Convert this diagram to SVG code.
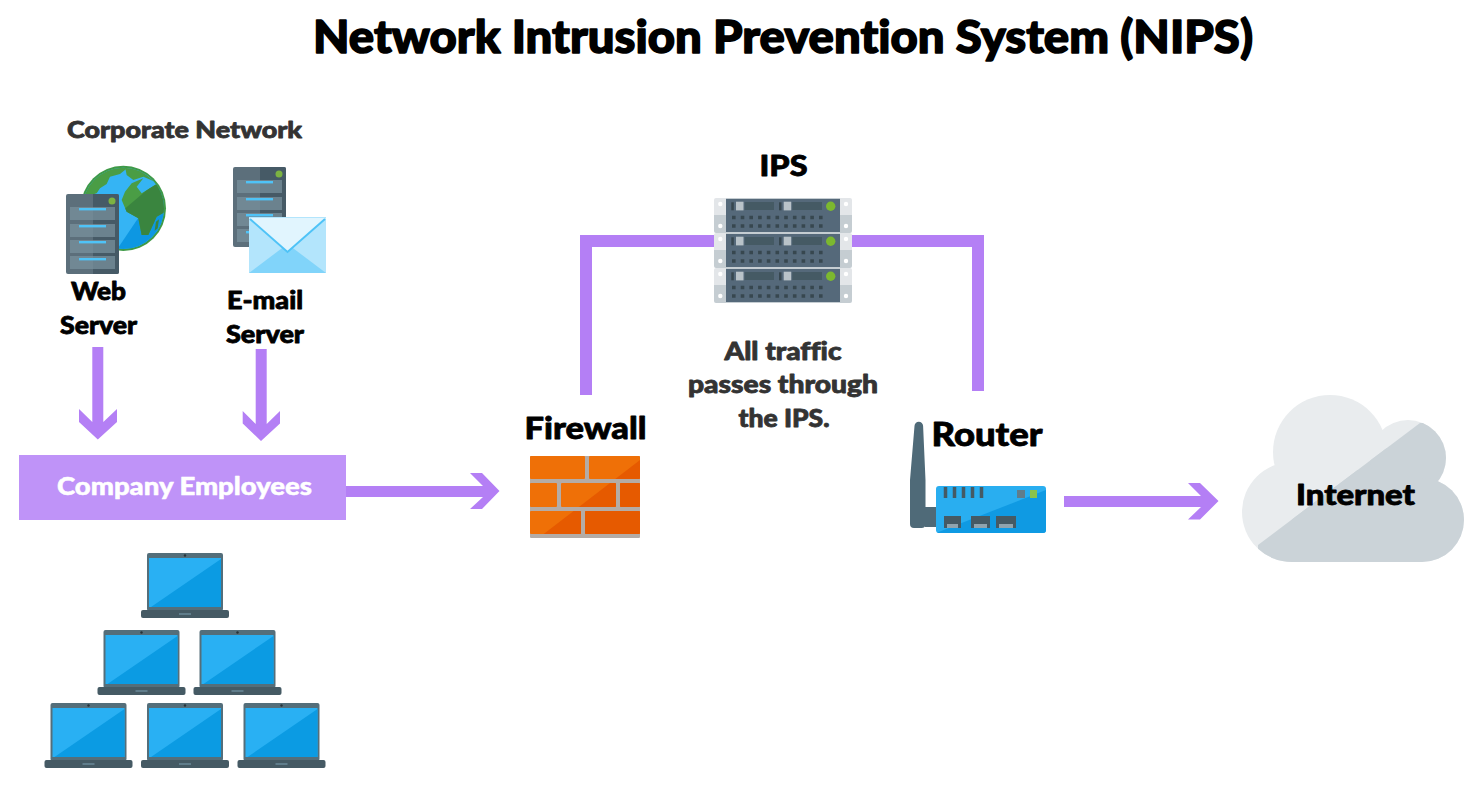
<svg xmlns="http://www.w3.org/2000/svg" width="1484" height="791" viewBox="0 0 1484 791">
<style>
text{font-family:"Lato","Noto Sans","Liberation Sans",sans-serif;font-weight:900;fill:#000;stroke:#000;stroke-width:.8;stroke-linejoin:round;text-anchor:middle;font-variant-ligatures:none}
text.dark{fill:#333;stroke:#333}
text.white{fill:#fff;stroke:#fff;stroke-width:.5}
text.big{stroke-width:1.5}
.wire{fill:none;stroke:#b47ff5;stroke-width:12;stroke-linejoin:miter}
.arrow{fill:#b47ff5}
</style>
<defs>
<clipPath id="cloudClip"><path d="M1258 545L1420 423L1484 423V600H1258Z"/></clipPath>
<clipPath id="wallClip"><path d="M640 460L545 533L530 545H640Z"/></clipPath>
<clipPath id="globeClip"><circle cx="190" cy="145" r="122"/></clipPath>
<clipPath id="shadeClip"><path d="M190 150L290 65L340 100V300H120Z"/></clipPath>
<clipPath id="routerClip"><rect x="936" y="486" width="110" height="47" rx="3"/></clipPath>
<symbol id="laptop" overflow="visible" width="76" height="66">
<rect x="0" y="0" width="76" height="58" rx="2" fill="#546e7a"/>
<rect x="2" y="5" width="72" height="49" fill="#29b0f3"/>
<path d="M4 54L74 6V54Z" fill="#0b9be3"/>
<circle cx="38" cy="2.500" r="1.200" fill="#263238"/>
<rect x="-6" y="57" width="88" height="8" rx="2" fill="#455a64"/>
<rect x="32" y="60" width="12" height="2" fill="#607d8b"/>
</symbol>
<symbol id="tower" overflow="visible" width="53" height="80">
<rect width="53" height="80" rx="2" fill="#5c6f7b"/>
<path d="M27 0H51a2 2 0 0 1 2 2V78a2 2 0 0 1-2 2H27Z" fill="#465a66"/>
<rect x="4" y="13" width="45" height="13" fill="#78909c" opacity=".75"/>
<rect x="4" y="30" width="45" height="13" fill="#78909c" opacity=".75"/>
<rect x="4" y="46" width="45" height="13" fill="#78909c" opacity=".75"/>
<rect x="4" y="62" width="45" height="13" fill="#78909c" opacity=".75"/>
<rect x="13" y="14" width="27" height="2.400" fill="#4fc3f7"/>
<rect x="13" y="31" width="27" height="2.400" fill="#4fc3f7"/>
<rect x="13" y="47" width="27" height="2.400" fill="#4fc3f7"/>
<rect x="13" y="64" width="27" height="2.400" fill="#4fc3f7"/>
<circle cx="46" cy="7" r="3.500" fill="#7cb342"/>
</symbol>
<symbol id="rack" overflow="visible" width="138" height="35">
<path d="M0 2a2 2 0 0 1 2-2H12V17H0Z" fill="#e3e6e9"/>
<path d="M0 17H12V35H2a2 2 0 0 1-2-2Z" fill="#c5cdd2"/>
<path d="M126 0H136a2 2 0 0 1 2 2V17H126Z" fill="#e3e6e9"/>
<path d="M126 17H138V33a2 2 0 0 1-2 2H126Z" fill="#c5cdd2"/>
<rect x="12" y="0" width="114" height="35" fill="#c5cdd2"/>
<rect x="12" y="1" width="114" height="33" fill="#55697a"/>
<circle cx="6.300" cy="6" r="2.200" fill="#fff"/><circle cx="6.300" cy="28" r="2.200" fill="#fff"/>
<circle cx="132" cy="6" r="2.200" fill="#fff"/><circle cx="132" cy="28" r="2.200" fill="#fff"/>
<rect x="17.300" y="4.300" width="2.500" height="8" fill="#37474f"/>
<rect x="22" y="3.700" width="7.500" height="8.700" fill="#b9c3c9"/>
<rect x="30.700" y="4" width="29.300" height="8" fill="#455a64"/>
<rect x="65" y="4.300" width="2.500" height="8" fill="#37474f"/>
<rect x="69.700" y="3.700" width="7.500" height="8.700" fill="#b9c3c9"/>
<rect x="78.300" y="4" width="29.700" height="8" fill="#455a64"/>
<circle cx="116.700" cy="8.300" r="4.700" fill="#7cb82f"/>
<path d="M18 19.500H110M18 28H110" stroke="#37474f" stroke-width="3.600" stroke-dasharray="3.600 5.100" fill="none"/>
</symbol>
</defs>
<rect width="1484" height="791" fill="#fff"/>

<g id="title"><text class="big" x="783" y="53" font-size="46" textLength="940" lengthAdjust="spacingAndGlyphs">Network Intrusion Prevention System (NIPS)</text></g>

<g id="connectors">
<path class="wire" d="M586 395V241H714"/>
<path class="wire" d="M852 241H978V391"/>
<path class="arrow" d="M92.300 347H103.300V422L117 409V422L97.800 439.500L79 422V409L92.300 422Z"/>
<path class="arrow" d="M255.700 349H266.700V424L280 411V423.500L261 441L242.700 423.500V411L255.700 424Z"/>
<path class="arrow" d="M346 486H483L470 473H482L499.500 491L482 509H470L483 497H346Z"/>
<path class="arrow" d="M1064 496H1201L1188 483H1200L1218.500 501L1200 519.500H1188L1201 507H1064Z"/>
</g>

<g id="corporate-network"><text class="dark" x="184.500" y="138" font-size="23" textLength="235" lengthAdjust="spacingAndGlyphs">Corporate Network</text></g>

<g id="web-server">
<g transform="translate(60 160) scale(.3333)">
<circle cx="190" cy="145" r="128" fill="#3f9a47"/>
<g clip-path="url(#globeClip)">
<rect x="60" y="15" width="260" height="260" fill="#35b4f4"/>
<path d="M170 270L325 40V270Z" fill="#0d97e2"/>
<path d="M60 105L100 55L150 25L205 22L180 42L150 50L140 72L120 85L110 100L70 112Z" fill="#4a9d45"/>
<path d="M195 95L215 70L250 55L230 80L245 100L290 72L320 110L325 150L290 170L265 225L245 225L235 175L200 155L185 120Z" fill="#4a9d45"/>
<path d="M195 20L240 30L285 65L250 50L220 60L200 45Z" fill="#4a9d45"/>
<g clip-path="url(#shadeClip)"><path d="M195 95L215 70L250 55L230 80L245 100L290 72L320 110L325 150L290 170L265 225L245 225L235 175L200 155L185 120Z" fill="#3a853f"/></g>
<path d="M288 185L297 178L293 205L284 212Z" fill="#3a853f"/>
</g>
</g>
<use href="#tower" x="66" y="194"/>
<text x="98.500" y="300" font-size="24" textLength="55" lengthAdjust="spacingAndGlyphs">Web</text>
<text x="98.500" y="334" font-size="24" textLength="77" lengthAdjust="spacingAndGlyphs">Server</text>
</g>

<g id="email-server">
<use href="#tower" x="233" y="167"/>
<rect x="249" y="217" width="77" height="56" fill="#b3e5fc"/>
<path d="M249 273L287.500 244L326 273Z" fill="#81d4fa"/>
<path d="M249 218H326L287.500 252Z" fill="#e1f5fe"/>
<path d="M250 219L287.500 252L325 219" fill="none" stroke="#4fc3f7" stroke-width="2"/>
<text x="265" y="309" font-size="24" textLength="76" lengthAdjust="spacingAndGlyphs">E-mail</text>
<text x="265" y="343" font-size="24" textLength="78" lengthAdjust="spacingAndGlyphs">Server</text>
</g>

<g id="company-employees">
<rect x="19" y="455" width="327" height="65" fill="#bf93f8"/>
<text class="white" x="184.500" y="495" font-size="24" textLength="255" lengthAdjust="spacingAndGlyphs">Company Employees</text>
</g>

<g id="laptops">
<use href="#laptop" x="147" y="553"/>
<use href="#laptop" x="103.500" y="630"/>
<use href="#laptop" x="199.500" y="630"/>
<use href="#laptop" x="50.500" y="703"/>
<use href="#laptop" x="147" y="703"/>
<use href="#laptop" x="243.500" y="703"/>
</g>

<g id="firewall">
<text x="585.500" y="439" font-size="31" textLength="122" lengthAdjust="spacingAndGlyphs">Firewall</text>
<rect x="530" y="456" width="110" height="82" rx="1" fill="#b4aca6"/>
<g fill="#ef7007">
<rect x="530" y="456" width="55" height="23" rx="1"/><rect x="589" y="456" width="51" height="23" rx="1"/>
<rect x="530" y="483" width="27" height="24" rx="1"/><rect x="561" y="483" width="55" height="24" rx="1"/><rect x="620" y="483" width="20" height="24" rx="1"/>
<rect x="530" y="511" width="51" height="23" rx="1"/><rect x="585" y="511" width="55" height="23" rx="1"/>
</g>
<g fill="#e65a00" clip-path="url(#wallClip)">
<rect x="530" y="456" width="55" height="23" rx="1"/><rect x="589" y="456" width="51" height="23" rx="1"/>
<rect x="530" y="483" width="27" height="24" rx="1"/><rect x="561" y="483" width="55" height="24" rx="1"/><rect x="620" y="483" width="20" height="24" rx="1"/>
<rect x="530" y="511" width="51" height="23" rx="1"/><rect x="585" y="511" width="55" height="23" rx="1"/>
</g>
</g>

<g id="ips">
<text x="783.500" y="176" font-size="28" textLength="48" lengthAdjust="spacingAndGlyphs">IPS</text>
<use href="#rack" x="714" y="198"/>
<use href="#rack" x="714" y="233"/>
<use href="#rack" x="714" y="268"/>
<text class="dark" x="783" y="360" font-size="24" textLength="117" lengthAdjust="spacingAndGlyphs">All traffic</text>
<text class="dark" x="783" y="393" font-size="24" textLength="190" lengthAdjust="spacingAndGlyphs">passes through</text>
<text class="dark" x="784" y="427" font-size="24" textLength="91" lengthAdjust="spacingAndGlyphs">the IPS.</text>
</g>

<g id="router">
<text x="987" y="446" font-size="33" textLength="111" lengthAdjust="spacingAndGlyphs">Router</text>
<path d="M914.500 426a4.300 4.300 0 0 1 8.600 0L925.500 480V524a4 4 0 0 1-4 4H914a4 4 0 0 1-4-4V480Z" fill="#4f6a78"/>
<rect x="925" y="507" width="12" height="20" fill="#4f6a78"/>
<rect x="936" y="486" width="110" height="47" rx="3" fill="#29aef0"/>
<path d="M936 533L1046 490V533Z" fill="#0f9ae3" clip-path="url(#routerClip)"/>
<path d="M945.500 487V498M954.500 487V498M963.500 487V498M972.500 487V498M981.500 487V498" stroke="#455a64" stroke-width="3.500" fill="none"/>
<rect x="1017" y="490" width="8" height="8" fill="#607d8b"/>
<rect x="1030" y="490" width="7" height="8" fill="#8bc34a"/>
<g fill="#455a64">
<rect x="944" y="516" width="17" height="12"/><rect x="971" y="516" width="19" height="12"/><rect x="996" y="516" width="20" height="12"/>
</g>
<g fill="#90a4ae">
<rect x="947" y="524" width="11" height="4"/><rect x="974" y="524" width="13" height="4"/><rect x="999" y="524" width="14" height="4"/>
</g>
</g>

<g id="internet">
<g fill="#e9ecee">
<circle cx="1292" cy="512" r="50"/><circle cx="1330" cy="452" r="57"/><circle cx="1408" cy="458" r="38"/><circle cx="1422" cy="520" r="42"/><rect x="1292" y="470" width="130" height="92"/>
</g>
<g fill="#cbd3d8" clip-path="url(#cloudClip)">
<circle cx="1292" cy="512" r="50"/><circle cx="1330" cy="452" r="57"/><circle cx="1408" cy="458" r="38"/><circle cx="1422" cy="520" r="42"/><rect x="1292" y="470" width="130" height="92"/>
</g>
<text x="1355.500" y="505" font-size="28" textLength="119" lengthAdjust="spacingAndGlyphs">Internet</text>
</g>
</svg>
